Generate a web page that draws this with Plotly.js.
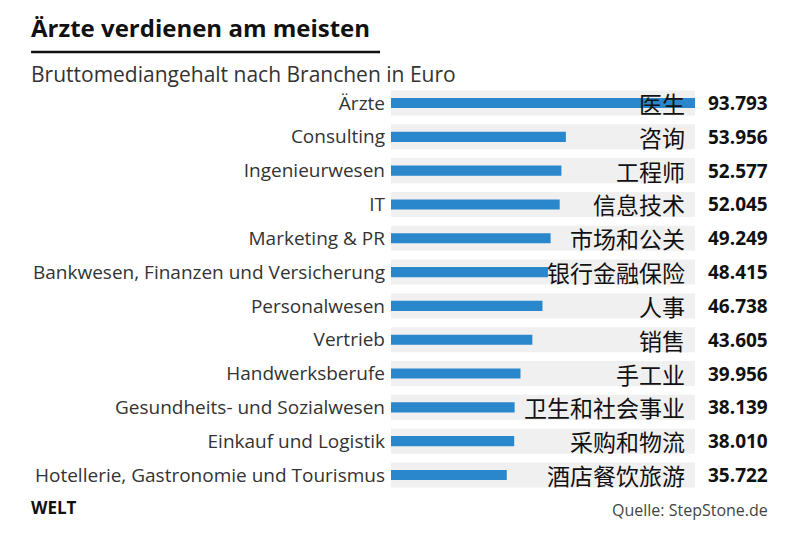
<!DOCTYPE html>
<html><head><meta charset="utf-8">
<script src="https://cdn.plot.ly/plotly-3.0.1.min.js"></script>
<style>html,body{margin:0;padding:0;background:#fff}#chart{width:800px;height:533px}</style>
</head><body><div id="chart"></div>
<script>
const categories = ["Ärzte","Consulting","Ingenieurwesen","IT","Marketing & PR","Bankwesen, Finanzen und Versicherung","Personalwesen","Vertrieb","Handwerksberufe","Gesundheits- und Sozialwesen","Einkauf und Logistik","Hotellerie, Gastronomie und Tourismus"];
const chineseLabels = ["医生","咨询","工程师","信息技术","市场和公关","银行金融保险","人事","销售","手工业","卫生和社会事业","采购和物流","酒店餐饮旅游"];
const salaries = [93793,53956,52577,52045,49249,48415,46738,43605,39956,38139,38010,35722];

const maxVal = Math.max(...salaries);
function fmt(v){return String(v).replace(/\B(?=(\d{3})+(?!\d))/g,'.');}

const bg = {type:'bar', orientation:'h', y:categories, x:categories.map(()=>maxVal), width:0.74,
  marker:{color:'#f0f0f0'}, hoverinfo:'skip', showlegend:false};
const bars = {type:'bar', orientation:'h', y:categories, x:salaries, width:0.3,
  marker:{color:'#2a87cb'}, showlegend:false};

const ann = [];
categories.forEach((c,i)=>{
  ann.push({xref:'paper', yref:'y', x:0.975, y:c, text:chineseLabels[i], xanchor:'right', yanchor:'middle', showarrow:false,
    font:{family:'Noto Sans CJK SC', size:23, color:'#111'}});
  ann.push({xref:'paper', yref:'y', x:1.036, y:c, text:'<b>'+fmt(salaries[i])+'</b>', xanchor:'left', yanchor:'middle', showarrow:false,
    font:{family:'Open Sans', size:19, color:'#111'}});
});
ann.push({xref:'paper', yref:'paper', x:-1.19, y:1.137, xanchor:'left', yanchor:'middle', showarrow:false,
  text:'<b>Ärzte verdienen am meisten</b>', font:{family:'Open Sans', size:24, color:'#111'}});
ann.push({xref:'paper', yref:'paper', x:-1.19, y:1.024, xanchor:'left', yanchor:'middle', showarrow:false,
  text:'Bruttomediangehalt nach Branchen in Euro', font:{family:'Open Sans', size:21, color:'#333'}});
ann.push({xref:'paper', yref:'paper', x:-1.19, y:-0.034, xanchor:'left', yanchor:'middle', showarrow:false,
  text:'<b>WELT</b>', font:{family:'Open Sans', size:17, color:'#111'}});
ann.push({xref:'paper', yref:'paper', x:1.247, y:-0.039, xanchor:'right', yanchor:'middle', showarrow:false,
  text:'Quelle: StepStone.de', font:{family:'Open Sans', size:16, color:'#444'}});

const layout = {
  width:800, height:533,
  margin:{l:391, r:105, t:84, b:39, pad:0},
  paper_bgcolor:'#fff', plot_bgcolor:'#fff',
  barmode:'overlay',
  xaxis:{range:[0,maxVal], visible:false, fixedrange:true},
  yaxis:{autorange:'reversed', showgrid:false, zeroline:false, ticks:'', ticklen:0, ticklabelstandoff:5,
    tickfont:{family:'Open Sans', size:19, color:'#333'}},
  annotations:ann,
  shapes:[{type:'line', xref:'paper', yref:'paper', x0:-1.184, x1:-0.036, y0:1.078, y1:1.078, line:{color:'#111', width:2.5}}]
};
Plotly.newPlot('chart',[bg,bars],layout,{displayModeBar:false, staticPlot:true});
</script></body></html>
